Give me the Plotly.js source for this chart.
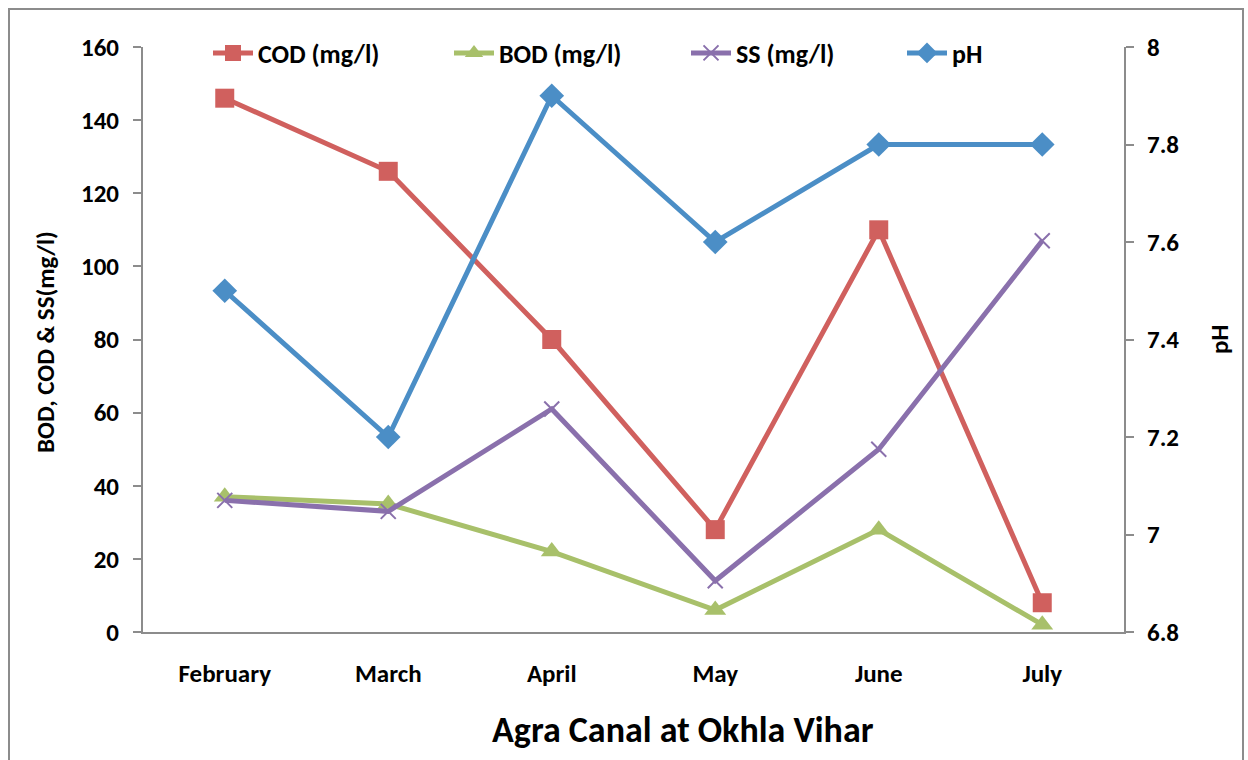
<!DOCTYPE html>
<html><head><meta charset="utf-8">
<script src="https://cdn.plot.ly/plotly-3.0.1.min.js"></script>
<style>
html,body{margin:0;padding:0;background:#fff;}
#wrap{position:relative;width:1248px;height:760px;}
#chart{width:1248px;height:760px;}
#border{position:absolute;left:8px;top:8px;width:1236px;height:760px;border:2px solid #8c8c8c;box-sizing:border-box;pointer-events:none;}
</style></head>
<body><div id="wrap"><div id="chart"></div><div id="border"></div></div>
<script>
const months = ["February","March","April","May","June","July"];
const cod = [146,126,80,28,110,8];
const bod = [37,35,22,6,28,2];
const ss = [36,33,61,14,50,107];
const ph = [7.5,7.2,7.9,7.6,7.8,7.8];

const FONT = "Carlito, 'Open Sans', sans-serif";
const L=143, R=1124, T=47, B=632, W=R-L, H=B-T;
const px = x => (x-L)/W;
const py = y => (B-y)/H;

const traces = [
 {x:months,y:cod,name:"COD (mg/l)",type:"scatter",mode:"lines+markers",
  line:{color:"#D0605E",width:5},marker:{symbol:"square",size:19,color:"#D0605E"},legend:"legend"},
 {x:months,y:bod,name:"BOD (mg/l)",type:"scatter",mode:"lines+markers",
  line:{color:"#A8C06A",width:5},marker:{symbol:"triangle-up",size:19,color:"#A8C06A"},legend:"legend2"},
 {x:months,y:ss,name:"SS (mg/l)",type:"scatter",mode:"lines+markers",
  line:{color:"#8A70AC",width:5},marker:{symbol:"x-thin",size:15,line:{color:"#8A70AC",width:2},color:"#8A70AC"},legend:"legend3"},
 {x:months,y:ph,name:"pH",type:"scatter",mode:"lines+markers",yaxis:"y2",
  line:{color:"#4B8EC6",width:5},marker:{symbol:"diamond",size:19,color:"#4B8EC6"},legend:"legend4"}
];

const legBase = {orientation:"h",yanchor:"middle",xanchor:"left",bgcolor:"rgba(0,0,0,0)",
  font:{family:FONT,size:26,color:"#000",weight:"bold"},itemwidth:40};

const TF = {family:FONT,size:25,color:"#000",weight:"bold"};
const layout = {
  width:1248,height:760,
  margin:{l:L,r:1248-R,t:T,b:760-B},
  paper_bgcolor:"#fff",plot_bgcolor:"#fff",
  font:{family:FONT,size:25,color:"#000",weight:"bold"},
  showlegend:true,
  legend:Object.assign({},legBase,{x:px(208),y:py(53)}),
  legend2:Object.assign({},legBase,{x:px(449),y:py(53)}),
  legend3:Object.assign({},legBase,{x:px(686),y:py(53)}),
  legend4:Object.assign({},legBase,{x:px(902),y:py(53)}),
  xaxis:{type:"category",range:[-0.5,5.5],showline:true,linecolor:"#8c8c8c",linewidth:2,
    showgrid:false,zeroline:false,ticks:"",ticklabelstandoff:18,tickfont:TF},
  yaxis:{range:[0,160],dtick:20,showline:true,linecolor:"#8c8c8c",linewidth:2,
    showgrid:false,zeroline:false,ticks:"outside",ticklen:8,tickcolor:"#8c8c8c",tickwidth:2,
    ticklabelstandoff:9,tickfont:TF},
  yaxis2:{range:[6.8,8],dtick:0.2,overlaying:"y",side:"right",showline:true,linecolor:"#8c8c8c",linewidth:2,
    showgrid:false,zeroline:false,ticks:"outside",ticklen:8,tickcolor:"#8c8c8c",tickwidth:2,
    ticklabelstandoff:8,tickfont:TF,
    tickvals:[6.8,7,7.2,7.4,7.6,7.8,8],ticktext:["6.8","7","7.2","7.4","7.6","7.8","8"]},
  annotations:[
    {text:"Agra Canal at Okhla Vihar",xref:"paper",yref:"paper",x:px(683),y:py(730),
     xanchor:"center",yanchor:"middle",showarrow:false,font:{family:FONT,size:36,color:"#000",weight:"bold"}},
    {text:"BOD, COD & SS(mg/l)",xref:"paper",yref:"paper",x:px(45),y:py(342),textangle:-90,
     xanchor:"center",yanchor:"middle",showarrow:false,font:{family:FONT,size:25,color:"#000",weight:"bold"}},
    {text:"pH",xref:"paper",yref:"paper",x:px(1219),y:py(340),textangle:-90,
     xanchor:"center",yanchor:"middle",showarrow:false,font:{family:FONT,size:25,color:"#000",weight:"bold"}}
  ]
};
Plotly.newPlot("chart",traces,layout,{displayModeBar:false,staticPlot:true});
</script></body></html>
